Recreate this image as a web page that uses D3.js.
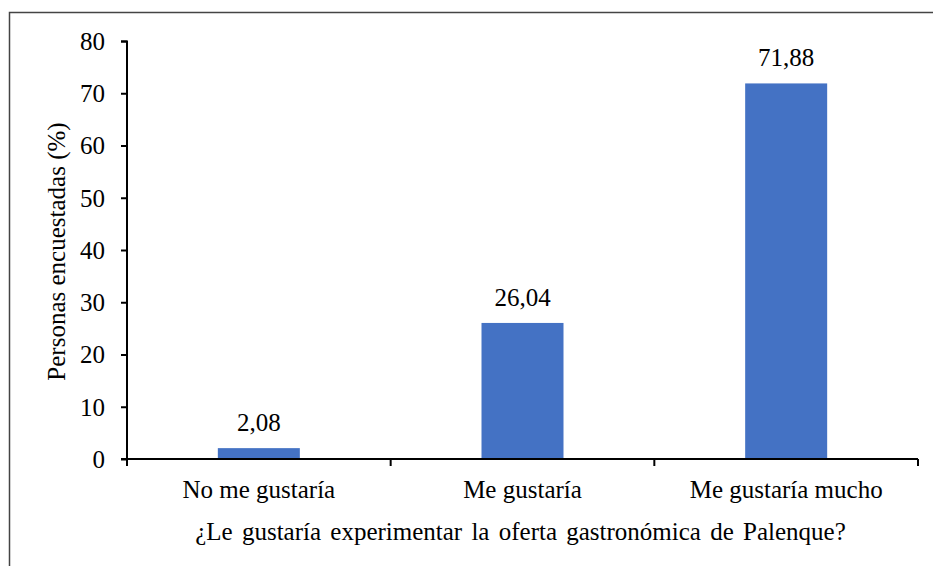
<!DOCTYPE html>
<head>
    <meta charset="utf-8">
    <script src="https://d3js.org/d3.v7.min.js"></script>
    <style>
        body { margin: 0; background: #fff; }
        .axis path, .axis line { stroke: #000; stroke-width: 2px; }
    </style>
</head>
<body>
<script>
    var categories = ["No me gustaría", "Me gustaría", "Me gustaría mucho"];
    var values = [2.08, 26.04, 71.88];
    var valueLabels = ["2,08", "26,04", "71,88"];
    var yTicks = [0, 10, 20, 30, 40, 50, 60, 70, 80];
    var xTitle = "¿Le gustaría experimentar la oferta gastronómica de Palenque?";
    var yTitle = "Personas encuestadas (%)";

    var FONT = "'Liberation Serif', 'DejaVu Serif', serif";
    var W = 933, H = 566;
    var margin = {top: 41, right: 15, bottom: 107, left: 127},
        width = 918 - margin.left,
        height = 459 - margin.top;

    var svg = d3.select("body").append("svg")
        .attr("width", W)
        .attr("height", H)
        .attr("font-family", FONT);

    // outer frame (only top and left edges show in the picture)
    svg.append("path")
        .attr("d", "M9.5," + H + "V12.5H" + W)
        .attr("fill", "none")
        .attr("stroke", "#444")
        .attr("stroke-width", 1.5);

    var g = svg.append("g")
        .attr("transform", "translate(" + margin.left + "," + margin.top + ")");

    var x = d3.scaleBand()
        .domain(categories)
        .range([0, width])
        .paddingInner(0.689)
        .paddingOuter(0.3445);

    var y = d3.scaleLinear()
        .domain([0, 80])
        .range([height, 0]);

    g.selectAll(".bar")
        .data(values)
        .enter().append("rect")
        .attr("class", "bar")
        .attr("x", function(d, i) { return x(categories[i]); })
        .attr("y", function(d) { return y(d); })
        .attr("width", x.bandwidth())
        .attr("height", function(d) { return height - y(d); })
        .attr("fill", "#4472C4");

    g.selectAll(".lbl")
        .data(values)
        .enter().append("text")
        .attr("class", "lbl")
        .attr("x", function(d, i) { return x(categories[i]) + x.bandwidth() / 2; })
        .attr("y", function(d) { return y(d) - 17; })
        .attr("text-anchor", "middle")
        .attr("font-size", 25)
        .text(function(d, i) { return valueLabels[i]; });

    g.append("g")
        .attr("class", "axis")
        .call(d3.axisLeft(y).tickValues(yTicks).tickSize(6).tickPadding(16).tickFormat(d3.format("d")))
        .attr("font-family", FONT)
        .attr("font-size", 25)
        .call(function(s) {
            s.select(".domain").attr("d", "M-6,0.5H0V" + height);
            s.selectAll("text").attr("fill", "#000").attr("dy", "0.33em");
        });

    // category axis: ticks at the band boundaries
    var xa = g.append("g")
        .attr("class", "axis xaxis")
        .attr("transform", "translate(0," + height + ")");
    xa.append("line").attr("x1", -6).attr("x2", width).attr("y1", 0).attr("y2", 0);
    xa.selectAll(".bt")
        .data(d3.range(categories.length + 1))
        .enter().append("line")
        .attr("x1", function(i) { return i * x.step(); })
        .attr("x2", function(i) { return i * x.step(); })
        .attr("y1", 0).attr("y2", 7);
    xa.selectAll("text")
        .data(categories)
        .enter().append("text")
        .attr("x", function(d) { return x(d) + x.bandwidth() / 2; })
        .attr("y", 39)
        .attr("text-anchor", "middle")
        .attr("font-size", 25)
        .text(function(d) { return d; });

    g.append("text")
        .attr("x", width / 2 - 2)
        .attr("y", height + 81)
        .attr("text-anchor", "middle")
        .attr("font-size", 25)
        .attr("word-spacing", 3)
        .text(xTitle);

    g.append("text")
        .attr("transform", "translate(" + (65 - margin.left) + "," + (251.5 - margin.top) + ") rotate(-90)")
        .attr("text-anchor", "middle")
        .attr("font-size", 25)
        .text(yTitle);
</script>
</body>
